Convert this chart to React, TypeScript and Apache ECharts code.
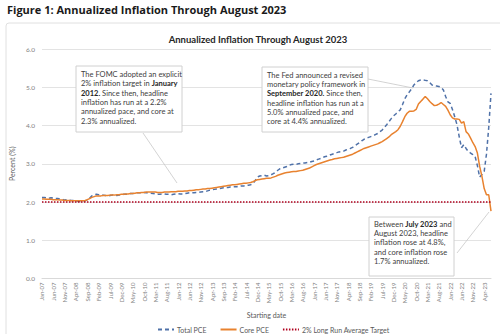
import React, { useEffect, useRef } from "react";
import * as echarts from "echarts";

const MONTHS = ["Jan", "Feb", "Mar", "Apr", "May", "Jun", "Jul", "Aug", "Sep", "Oct", "Nov", "Dec"];
const FIRST_YEAR = 2007;
const LAST_YEAR = 2023;
const LAST_MONTH_INDEX = 6; // Jul-23

const categories: string[] = [];
for (let y = FIRST_YEAR; y <= LAST_YEAR; y++) {
  for (let m = 0; m < 12; m++) {
    if (y === LAST_YEAR && m > LAST_MONTH_INDEX) break;
    categories.push(`${MONTHS[m]}-${String(y).slice(2)}`);
  }
}

const yTicks = [0, 1, 2, 3, 4, 5, 6];

const totalPCE = [
  2.12, 2.12, 2.11, 2.10, 2.11, 2.10, 2.09, 2.09, 2.08, 2.07, 2.05, 2.06,
  2.05, 2.04, 2.04, 2.03, 2.02, 2.01, 2.02, 2.03, 2.05, 2.10, 2.16, 2.19,
  2.20, 2.19, 2.19, 2.18, 2.17, 2.16, 2.17, 2.18, 2.18, 2.17, 2.18, 2.19,
  2.20, 2.20, 2.21, 2.22, 2.22, 2.23, 2.24, 2.24, 2.24, 2.25, 2.24, 2.24,
  2.23, 2.22, 2.21, 2.20, 2.20, 2.21, 2.21, 2.20, 2.20, 2.19, 2.20, 2.21,
  2.22, 2.21, 2.21, 2.22, 2.23, 2.24, 2.24, 2.24, 2.25, 2.25, 2.26, 2.27,
  2.27, 2.29, 2.31, 2.32, 2.33, 2.34, 2.35, 2.36, 2.37, 2.38, 2.38, 2.39,
  2.39, 2.40, 2.40, 2.41, 2.42, 2.42, 2.43, 2.44, 2.45, 2.48, 2.56, 2.65,
  2.68, 2.69, 2.70, 2.68, 2.69, 2.71, 2.74, 2.78, 2.83, 2.87, 2.89, 2.91,
  2.93, 2.96, 2.98, 2.99, 2.98, 3.00, 3.01, 3.02, 3.02, 3.03, 3.04, 3.06,
  3.07, 3.10, 3.12, 3.14, 3.17, 3.19, 3.20, 3.23, 3.25, 3.27, 3.29, 3.31,
  3.32, 3.33, 3.36, 3.38, 3.40, 3.43, 3.47, 3.51, 3.55, 3.60, 3.64, 3.67,
  3.69, 3.71, 3.73, 3.76, 3.79, 3.84, 3.88, 3.95, 4.02, 4.10, 4.18, 4.25,
  4.30, 4.36, 4.41, 4.55, 4.70, 4.80, 4.88, 4.96, 5.06, 5.12, 5.17, 5.19,
  5.19, 5.18, 5.17, 5.12, 5.06, 5.04, 5.03, 5.02, 5.00, 4.93, 4.76, 4.62,
  4.58, 4.42, 4.23, 4.02, 3.70, 3.42, 3.50, 3.40, 3.32, 3.28, 3.24, 3.19,
  2.95, 2.65, 2.72, 2.80, 3.25, 3.95, 4.84,
];

const corePCE = [
  2.08, 2.08, 2.07, 2.07, 2.07, 2.06, 2.06, 2.06, 2.05, 2.05, 2.04, 2.04,
  2.04, 2.03, 2.03, 2.03, 2.03, 2.03, 2.03, 2.04, 2.06, 2.09, 2.12, 2.14,
  2.16, 2.16, 2.16, 2.17, 2.17, 2.17, 2.18, 2.18, 2.18, 2.19, 2.19, 2.20,
  2.20, 2.21, 2.21, 2.22, 2.22, 2.23, 2.24, 2.24, 2.25, 2.25, 2.26, 2.26,
  2.26, 2.26, 2.26, 2.25, 2.25, 2.25, 2.26, 2.26, 2.26, 2.27, 2.27, 2.27,
  2.28, 2.28, 2.28, 2.29, 2.29, 2.30, 2.30, 2.31, 2.32, 2.32, 2.33, 2.34,
  2.34, 2.35, 2.35, 2.36, 2.37, 2.38, 2.39, 2.40, 2.41, 2.42, 2.43, 2.44,
  2.45, 2.45, 2.46, 2.47, 2.48, 2.49, 2.49, 2.50, 2.51, 2.53, 2.56, 2.58,
  2.59, 2.60, 2.61, 2.62, 2.62, 2.63, 2.65, 2.67, 2.70, 2.72, 2.74, 2.76,
  2.77, 2.78, 2.79, 2.80, 2.80, 2.81, 2.82, 2.83, 2.85, 2.87, 2.89, 2.92,
  2.95, 2.98, 3.00, 3.02, 3.04, 3.06, 3.08, 3.10, 3.11, 3.13, 3.14, 3.15,
  3.16, 3.17, 3.19, 3.21, 3.23, 3.25, 3.28, 3.31, 3.34, 3.37, 3.40, 3.42,
  3.44, 3.46, 3.48, 3.50, 3.52, 3.55, 3.58, 3.62, 3.66, 3.70, 3.76, 3.80,
  3.84, 3.89, 3.98, 4.10, 4.23, 4.32, 4.37, 4.37, 4.38, 4.42, 4.56, 4.63,
  4.69, 4.76, 4.70, 4.63, 4.57, 4.52, 4.53, 4.56, 4.60, 4.55, 4.50, 4.40,
  4.28, 4.20, 4.17, 4.17, 4.16, 4.06, 4.10, 3.84, 3.78, 3.67, 3.55, 3.45,
  3.28, 2.93, 2.67, 2.35, 2.19, 2.19, 1.76,
];

const TARGET = 2.0;

const FONT = "Lato, 'Open Sans', sans-serif";
const TEXT = "#404040";
const GRAY = "#7f7f7f";

function noteText(x: number, y: number, text: string) {
  return {
    type: "text",
    z: 101,
    x,
    y,
    style: {
      text,
      fontFamily: FONT,
      fontSize: 7.5,
      lineHeight: 9.3,
      fill: TEXT,
      rich: {
        b: { fontFamily: FONT, fontSize: 7.5, lineHeight: 9.3, fontWeight: "bold", fill: "#262626" },
      },
    },
  };
}

function noteBox(x: number, y: number, w: number, h: number) {
  return {
    type: "rect",
    z: 100,
    shape: { x, y, width: w, height: h },
    style: { fill: "#ffffff", stroke: "#d0d0d0", lineWidth: 1 },
  };
}

function callout(x1: number, y1: number, x2: number, y2: number) {
  return {
    type: "line",
    z: 99,
    shape: { x1, y1, x2, y2 },
    style: { stroke: "#c8c8c8", lineWidth: 0.8 },
  };
}

export default function App() {
  const ref = useRef<HTMLDivElement>(null);
  useEffect(() => {
    if (!ref.current) return;
    const chart = echarts.init(ref.current, undefined, { renderer: "svg" });
    const last = categories.length - 1;
    chart.setOption({
      animation: false,
      backgroundColor: "#ffffff",
      title: [
        {
          text: "Figure 1: Annualized Inflation Through August 2023",
          left: 2,
          top: -1,
          textStyle: { fontFamily: "'Open Sans', sans-serif", fontSize: 11, fontWeight: "bold", color: "#1a1a1a" },
        },
        {
          text: "Annualized Inflation Through August 2023",
          left: 253,
          textAlign: "center",
          top: 29,
          textStyle: { fontFamily: FONT, fontSize: 9.5, fontWeight: "bold", color: "#262626" },
        },
      ],
      grid: { left: 40, right: 9, top: 49, bottom: 55.5, containLabel: false },
      legend: {
        left: 152,
        top: 321,
        itemWidth: 16,
        itemHeight: 8,
        itemGap: 13,
        itemStyle: { opacity: 0 },
        textStyle: { fontFamily: FONT, fontSize: 7, color: "#595959", padding: [0, 0, 0, -2] },
        data: ["Total PCE", "Core PCE", "2% Long Run Average Target"],
      },
      xAxis: {
        type: "category",
        data: categories,
        boundaryGap: false,
        name: "Starting date",
        nameLocation: "middle",
        nameGap: 30,
        nameTextStyle: { fontFamily: FONT, fontSize: 7, color: "#595959" },
        axisLine: { lineStyle: { color: "#d9d9d9" } },
        axisTick: { show: false },
        axisLabel: {
          interval: 4,
          rotate: 90,
          fontFamily: FONT,
          fontSize: 6,
          color: GRAY,
          margin: 4,
        },
      },
      yAxis: {
        type: "value",
        min: yTicks[0],
        max: yTicks[yTicks.length - 1],
        interval: 1,
        name: "Percent (%)",
        nameLocation: "middle",
        nameGap: 19,
        nameTextStyle: { fontFamily: FONT, fontSize: 7, color: "#595959" },
        axisLine: { show: false },
        axisTick: { show: false },
        axisLabel: {
          fontFamily: FONT,
          fontSize: 6.5,
          color: GRAY,
          margin: 7,
          formatter: (v: number) => v.toFixed(1),
        },
        splitLine: { lineStyle: { color: "#e3e3e3", width: 1 } },
      },
      series: [
        {
          name: "Total PCE",
          type: "line",
          data: totalPCE,
          symbol: "none",
          lineStyle: { color: "#4F71A8", width: 1.5, type: [4, 3] },
          itemStyle: { color: "#4F71A8" },
        },
        {
          name: "Core PCE",
          type: "line",
          data: corePCE,
          symbol: "none",
          lineStyle: { color: "#E8822F", width: 1.5 },
          itemStyle: { color: "#E8822F" },
        },
        {
          name: "2% Long Run Average Target",
          type: "line",
          data: [
            [categories[0], TARGET],
            [categories[last], TARGET],
          ],
          symbol: "none",
          lineStyle: { color: "#B0001E", width: 1.5, type: [1.5, 1.5] },
          itemStyle: { color: "#B0001E" },
        },
      ],
      graphic: [
        {
          type: "rect",
          z: -1,
          silent: true,
          shape: { x: 6, y: 23, width: 520, height: 330, r: 3 },
          style: { fill: "none", stroke: "#e0e0e0", lineWidth: 1 },
        },
        callout(143, 133, 177, 183),
        noteBox(76, 66, 106, 66),
        noteText(
          81,
          70,
          "The FOMC adopted an explicit\n2% inflation target in {b|January}\n{b|2012.} Since then, headline\ninflation has run at a 2.2%\nannualized pace, and core at\n2.3% annualized."
        ),
        callout(368, 79, 413, 88),
        noteBox(262, 67, 106, 65),
        noteText(
          267,
          70.5,
          "The Fed announced a revised\nmonetary policy framework in\n{b|September 2020.} Since then,\nheadline inflation has run at a\n5.0% annualized pace, and\ncore at 4.4% annualized."
        ),
        callout(457, 253, 489, 212),
        noteBox(369, 217, 85, 59),
        noteText(
          374,
          219.5,
          "Between {b|July 2023} and\nAugust 2023, headline\ninflation rose at 4.8%,\nand core inflation rose\n1.7% annualized."
        ),
      ],
    });
    return () => chart.dispose();
  }, []);
  return (
    <div
      ref={ref}
      style={{ position: "fixed", left: 0, top: 0, width: 500, height: 334, background: "#fff" }}
    />
  );
}
